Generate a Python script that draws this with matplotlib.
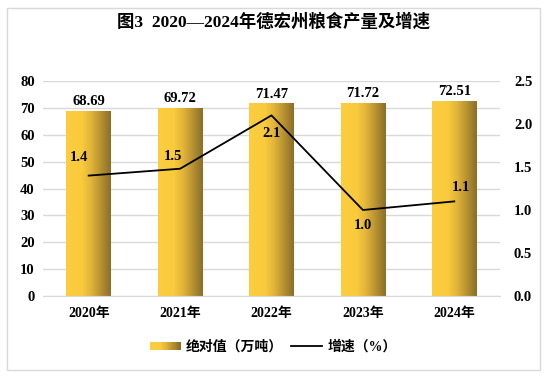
import numpy as np
import matplotlib.pyplot as plt
from matplotlib.patches import Rectangle
from matplotlib.legend_handler import HandlerBase
from matplotlib.lines import Line2D
from matplotlib.colors import LinearSegmentedColormap

plt.rcParams['font.family'] = ['Liberation Serif', 'Noto Sans CJK SC']
plt.rcParams['font.weight'] = 'bold'

years = ['2020年', '2021年', '2022年', '2023年', '2024年']
output = [68.69, 69.72, 71.47, 71.72, 72.51]
growth = [1.4, 1.48, 2.1, 1.0, 1.1]
growth_labels = ['1.4', '1.5', '2.1', '1.0', '1.1']

gold = LinearSegmentedColormap.from_list(
    'gold', [(0, '#FCCD3E'), (0.35, '#F9CB3C'), (0.55, '#E3B53A'), (1, '#8A6E2A')])
grad = np.linspace(0, 1, 256).reshape(1, -1)

fig = plt.figure(figsize=(5.47, 3.83), dpi=100)
W, H = 547, 383
fig.patches.append(Rectangle((7 / W, 1 - 370 / H), 533 / W, 362 / H,
                             transform=fig.transFigure, fill=False,
                             edgecolor='#D9D9D9', lw=1))

ax = fig.add_axes([43 / W, 87 / H, 457 / W, 215 / H])
x = np.arange(len(years))
bw = 0.49
for xi, v in zip(x, output):
    ax.imshow(grad, cmap=gold, aspect='auto', interpolation='bicubic',
              extent=(xi - bw / 2, xi + bw / 2, 0, v), zorder=2)
    ax.text(xi, v + 1.2, f'{v:.2f}', ha='center', va='bottom', fontsize=10.5)
ax.set_xlim(-0.5, len(years) - 0.5)
ax.set_ylim(0, 80)
ax.set_yticks(range(0, 81, 10))
ax.grid(axis='y', color='#D9D9D9', lw=1, zorder=0)
ax.set_axisbelow(True)
ax.set_xticks(x)
ax.set_xticklabels(years, fontsize=10)
for s in ax.spines.values():
    s.set_visible(False)
ax.spines['bottom'].set_visible(True)
ax.spines['bottom'].set_color('#D9D9D9')
ax.tick_params(length=0, labelsize=10.5, pad=6)
ax.tick_params(axis='x', pad=8, labelsize=10)

ax2 = ax.twinx()
ax2.set_ylim(0, 2.5)
ax2.set_yticks(np.arange(0, 2.51, 0.5))
ax2.set_yticklabels([f'{t:.1f}' for t in np.arange(0, 2.51, 0.5)])
ax2.plot(x, growth, color='black', lw=1.3, zorder=3)
for s in ax2.spines.values():
    s.set_visible(False)
ax2.tick_params(length=0, labelsize=10.5, pad=10)
offsets = [(-7, 13), (-5, 9), (0, -13), (0, -11), (5, 10)]
for xi, g, lab, (dx, dy) in zip(x, growth, growth_labels, offsets):
    ax2.annotate(lab, (xi, g), xytext=(dx, dy), textcoords='offset points',
                 ha='center', va='center', fontsize=10.5)

fig.text(0.5, 1 - 22 / H, '图3  2020—2024年德宏州粮食产量及增速', ha='center',
         va='center', fontsize=12.5)


class GradHandler(HandlerBase):
    def create_artists(self, legend, orig, xd, yd, w, h, fs, trans):
        n = 20
        arts = []
        for i in range(n):
            r = Rectangle((xd + w * i / n, yd + h * 0.1), w / n + 0.3, h * 0.8,
                          facecolor=gold(i / (n - 1)), edgecolor='none',
                          transform=trans)
            arts.append(r)
        return arts


bar_handle = Rectangle((0, 0), 1, 1)
line_handle = Line2D([], [], color='black', lw=1.3)
fig.legend([bar_handle, line_handle], ['绝对值（万吨）', '增速（%）'],
           handler_map={bar_handle: GradHandler()}, loc='center',
           bbox_to_anchor=(273 / W, 1 - 347 / H), ncol=2, frameon=False,
           fontsize=10, handlelength=2.2, columnspacing=0.6, handletextpad=0.4)

fig.savefig('out.png', dpi=100)
